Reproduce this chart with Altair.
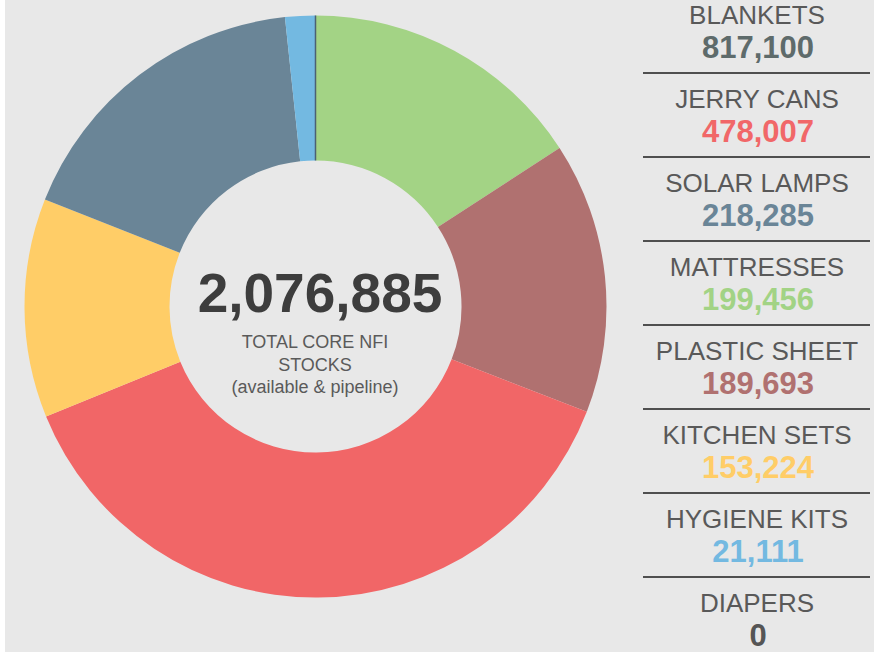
import altair as alt
import pandas as pd

# ---- data ----
items = ["BLANKETS", "JERRY CANS", "SOLAR LAMPS", "MATTRESSES",
         "PLASTIC SHEET", "KITCHEN SETS", "HYGIENE KITS", "DIAPERS"]
stocks = [817100, 478007, 218285, 199456, 189693, 153224, 21111, 0]
# order of the slices in the donut, clockwise from 12 o'clock
donut_items = ["MATTRESSES", "PLASTIC SHEET", "JERRY CANS", "KITCHEN SETS",
               "SOLAR LAMPS", "HYGIENE KITS", "DIAPERS"]
total_label = "2,076,885"
subtitle_lines = ["TOTAL CORE NFI", "STOCKS", "(available & pipeline)"]

# ---- styles ----
slice_colors = ["#a3d385", "#b07170", "#f16667", "#ffcd67",
                "#6a8597", "#73b9e1", "#4b6173"]
value_colors = ["#5e6b6b", "#f16768", "#6a8597", "#a2d385",
                "#b07170", "#ffcd67", "#73b9e1", "#555555"]
FONT = "Liberation Sans, Arial, Helvetica, sans-serif"

df = pd.DataFrame({"item": items, "stock": stocks})
donut_df = pd.DataFrame({
    "item": donut_items,
    "stock": [stocks[items.index(n)] for n in donut_items],
    "ord": list(range(len(donut_items))),
})

base_bg = alt.Chart(pd.DataFrame({"k": [0]})).mark_rect(color="#e8e8e8").encode(
    x=alt.value(5), x2=alt.value(874), y=alt.value(0), y2=alt.value(652)
)

donut = alt.Chart(donut_df).mark_arc(radius=291, radius2=146).encode(
    theta=alt.Theta("stock:Q", stack=True),
    order=alt.Order("ord:Q"),
    color=alt.Color("item:N", scale=alt.Scale(domain=donut_items, range=slice_colors), legend=None),
    stroke=alt.value("#4b6173"),
    strokeWidth=alt.condition(alt.datum.item == "DIAPERS", alt.value(1.5), alt.value(0)),
    x=alt.value(315.5),
    y=alt.value(306.5),
)

center_total = alt.Chart(pd.DataFrame({"t": [total_label]})).mark_text(
    font=FONT, fontSize=55, fontWeight="bold", color="#3d3d3d",
    align="center", baseline="middle"
).encode(text="t:N", x=alt.value(320), y=alt.value(295))

center_sub = alt.Chart(pd.DataFrame({"k": [0]})).mark_text(
    text=subtitle_lines, font=FONT, fontSize=18, color="#5a5a5a",
    align="center", baseline="top", lineHeight=22.5
).encode(x=alt.value(315), y=alt.value(334))

yscale = alt.Scale(type="point", domain=items, range=[16, 604], padding=0)

labels = alt.Chart(df).mark_text(
    font=FONT, fontSize=26, color="#595959", align="center", baseline="middle"
).encode(
    x=alt.value(757),
    y=alt.Y("item:N", scale=yscale, axis=None),
    text="item:N",
)

vals = alt.Chart(df).mark_text(
    font=FONT, fontSize=31, fontWeight="bold", align="center", baseline="middle", dy=33
).encode(
    x=alt.value(758),
    y=alt.Y("item:N", scale=yscale, axis=None),
    text=alt.Text("stock:Q", format=","),
    color=alt.Color("item:N", scale=alt.Scale(domain=items, range=value_colors), legend=None),
)

seps = alt.Chart(df).transform_filter(alt.datum.item != "DIAPERS").mark_rule(
    color="#4f4f4f", strokeWidth=2, yOffset=57
).encode(
    x=alt.value(643), x2=alt.value(870),
    y=alt.Y("item:N", scale=yscale, axis=None),
)

chart = alt.layer(base_bg, donut, center_total, center_sub, labels, vals, seps).resolve_scale(
    color="independent"
).properties(
    width=874, height=653, padding=0,
    autosize=alt.AutoSizeParams(type="none"),
    background="white",
).configure_view(stroke=None)

chart.save("out.html", embed_options={"renderer": "svg", "actions": False})
